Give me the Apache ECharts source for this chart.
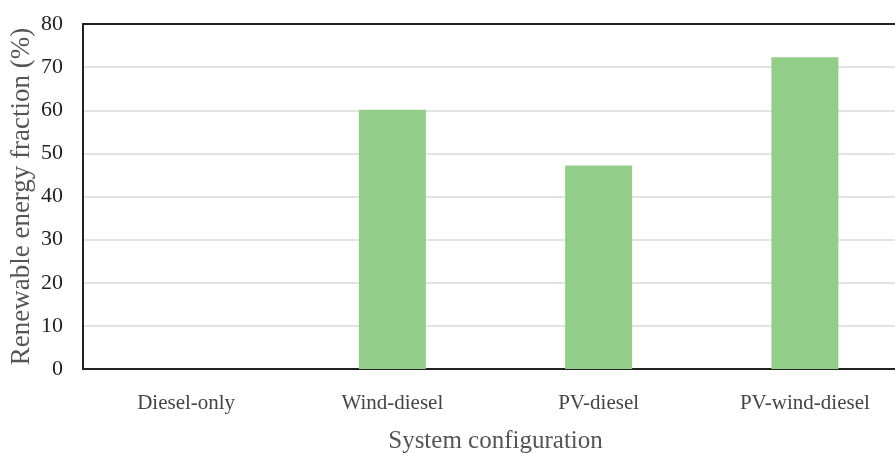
<!DOCTYPE html>
<html>
<head>
<meta charset="utf-8">
<script src="https://cdn.jsdelivr.net/npm/echarts@6/dist/echarts.min.js"></script>
<style>html,body{margin:0;padding:0;background:#fff}#c{width:895px;height:453px}</style>
</head>
<body>
<div id="c"></div>
<script>
const categories = ['Diesel-only', 'Wind-diesel', 'PV-diesel', 'PV-wind-diesel'];
const values = [0, 60.1, 47.2, 72.3];
const yTicks = [0, 10, 20, 30, 40, 50, 60, 70, 80];

const FONT = 'Liberation Serif';
const chart = echarts.init(document.getElementById('c'));
chart.setOption({
  animation: false,
  grid: { left: 83, top: 24, bottom: 84, right: -13, outerBoundsMode: 'none', containLabel: false },
  xAxis: [{
    type: 'category',
    data: categories,
    name: 'System configuration',
    nameLocation: 'middle',
    nameGap: 60,
    nameMoveOverlap: false,
    nameTextStyle: { fontFamily: FONT, fontSize: 25, color: '#555' },
    axisLine: { lineStyle: { color: '#222', width: 2 } },
    axisTick: { show: false },
    axisLabel: { fontFamily: FONT, fontSize: 21, color: '#444', margin: 24 }
  }, {
    type: 'category',
    data: categories,
    position: 'top',
    axisLine: { show: true, lineStyle: { color: '#222', width: 2 } },
    axisTick: { show: false },
    axisLabel: { show: false },
    splitLine: { show: false }
  }],
  yAxis: {
    type: 'value',
    min: yTicks[0],
    max: yTicks[yTicks.length - 1],
    interval: 10,
    name: 'Renewable energy fraction (%)',
    nameLocation: 'middle',
    nameGap: 48,
    nameMoveOverlap: false,
    nameTextStyle: { fontFamily: FONT, fontSize: 27, color: '#555' },
    axisLine: { show: true, lineStyle: { color: '#222', width: 2 } },
    axisTick: { show: false },
    axisLabel: { fontFamily: FONT, fontSize: 22, color: '#222', margin: 20 },
    splitLine: { lineStyle: { color: '#e3e3e3', width: 2 } }
  },
  series: [{
    type: 'bar',
    xAxisIndex: 0,
    data: values,
    barWidth: 67,
    itemStyle: { color: '#93ce88' }
  }]
});
</script>
</body>
</html>
